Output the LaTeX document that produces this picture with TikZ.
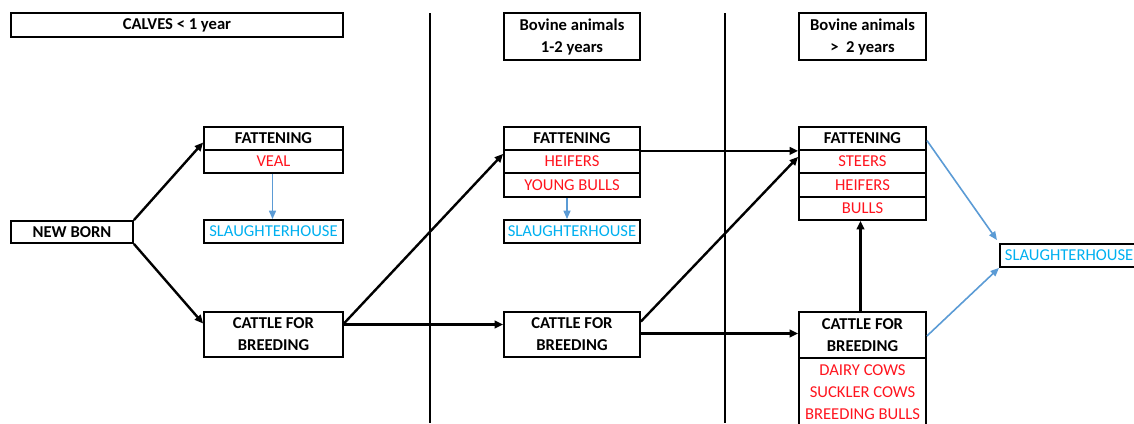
\documentclass[tikz,border=0pt]{standalone}
\usepackage{fontspec}
\setmainfont{Carlito}
\usetikzlibrary{arrows.meta,calc}
\definecolor{myred}{RGB}{255,20,30}
\definecolor{skyt}{RGB}{0,176,240}
\definecolor{blarrow}{RGB}{91,155,213}
\begin{document}
\begin{tikzpicture}[x=1pt,y=-1pt,
  box/.style={draw, line width=1.8pt, inner sep=0pt, align=center, font=\fontsize{16.6}{22}\selectfont},
  hdr/.style={box, font=\fontsize{16.6}{22}\selectfont\bfseries},
  redt/.style={box, text=myred},
  bluet/.style={box, text=skyt},
  arr/.style={line width=2.4pt, -{Triangle[length=8.5pt,width=7.5pt]}},
  barr/.style={line width=1.6pt, blarrow, -{Triangle[length=8.5pt,width=7pt]}},
  divider/.style={line width=2.8pt}]
\useasboundingbox (0,0) rectangle (1134,423);
\clip (0,0) rectangle (1134,423);
% column headers
\node[hdr, minimum width=332pt, minimum height=24pt] (calves) at (177,25) {CALVES < 1 year};
\node[hdr, minimum width=136pt, minimum height=47pt] (bov12) at (572,36.5) {Bovine animals\\1-2 years};
\node[hdr, minimum width=127pt, minimum height=47pt] (bov2) at (862.5,36.5) {Bovine animals\\>\ \ 2 years};
% dividers
\draw[divider] (430,13) -- (430,423);
\draw[divider] (725,13) -- (725,423);
% column 1
\node[hdr, minimum width=122pt, minimum height=22pt] (nb) at (72,232) {NEW BORN};
\node[hdr, minimum width=139pt, minimum height=23pt] (f1h) at (273.5,138.5) {FATTENING};
\node[redt, minimum width=139pt, minimum height=23pt] (f1a) at (273.5,161.5) {VEAL};
\node[bluet, minimum width=139pt, minimum height=23pt] (s1) at (273.5,231.5) {SLAUGHTERHOUSE};
\node[hdr, minimum width=139pt, minimum height=45pt] (c1) at (273.5,334.5) {CATTLE FOR\\BREEDING};
% column 2
\node[hdr, minimum width=136pt, minimum height=23pt] (f2h) at (572,138.5) {FATTENING};
\node[redt, minimum width=136pt, minimum height=23pt] (f2a) at (572,161.5) {HEIFERS};
\node[redt, minimum width=136pt, minimum height=24pt] (f2b) at (572,185) {YOUNG BULLS};
\node[bluet, minimum width=136pt, minimum height=23pt] (s2) at (572,231.5) {SLAUGHTERHOUSE};
\node[hdr, minimum width=136pt, minimum height=45pt] (c2) at (572,334.5) {CATTLE FOR\\BREEDING};
% column 3
\node[hdr, minimum width=127pt, minimum height=23pt] (f3h) at (862.5,138.5) {FATTENING};
\node[redt, minimum width=127pt, minimum height=23pt] (f3a) at (862.5,161.5) {STEERS};
\node[redt, minimum width=127pt, minimum height=24pt] (f3b) at (862.5,185) {HEIFERS};
\node[redt, minimum width=127pt, minimum height=23pt] (f3c) at (862.5,208.5) {BULLS};
\node[hdr, minimum width=127pt, minimum height=46pt] (c3h) at (862.5,335) {CATTLE FOR\\BREEDING};
\node[redt, minimum width=127pt, minimum height=68pt] (c3b) at (862.5,392) {DAIRY COWS\\SUCKLER COWS\\BREEDING BULLS};
\node[bluet, anchor=west, minimum height=23pt, inner xsep=5pt, text width=140pt, align=left] (s3) at (999,255.5) {SLAUGHTERHOUSE};
% black connectors
\draw[arr] (nb.north east) -- ([yshift=-4pt]f1h.west);
\draw[arr] (nb.south east) -- ([yshift=11pt]c1.west);
\draw[arr] ([yshift=11pt]c1.east) -- ([yshift=-3pt]f2h.south west);
\draw[arr] ([yshift=10pt]c1.east) -- ([yshift=10pt]c2.west);
\draw[arr] (f2h.south east) -- (f3h.south west);
\draw[arr] ([yshift=13pt]c2.east) -- ([yshift=-6pt]f3h.south west);
\draw[arr] ([yshift=1pt]c2.east) -- ([yshift=1pt]c2.east -| c3h.west);
\draw[arr] ([xshift=-2pt]c3h.north) -- ([xshift=-2pt]f3c.south);
% blue connectors
\draw[barr] ([xshift=-1pt]f1a.south) -- ([xshift=-1pt]s1.north);
\draw[barr] ([xshift=-5pt]f2b.south) -- ([xshift=-5pt]s2.north);
\draw[barr] ([yshift=-2pt]f3h.east) -- ([xshift=-2pt,yshift=3pt]s3.north west);
\draw[barr] ([yshift=-1pt]c3h.east) -- (s3.south west);
\end{tikzpicture}
\end{document}
